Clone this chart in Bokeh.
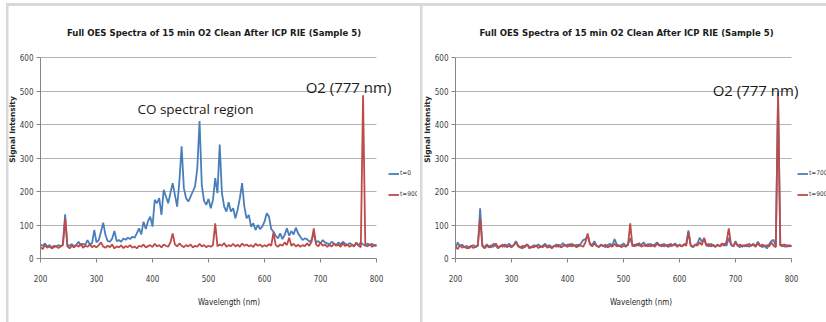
from bokeh.plotting import figure
from bokeh.models import Range1d, FixedTicker, Label
from bokeh.layouts import row
from bokeh.embed import file_html
from bokeh.resources import INLINE

# ---------------- data ----------------
wavelength = list(range(200, 801, 4))

t0_left = [42, 38, 45, 36, 40, 33, 38, 35, 40, 37, 42, 132, 40, 38, 43, 36, 41, 50, 38, 44,
           40, 55, 42, 45, 85, 48, 55, 80, 107, 70, 52, 50, 60, 82, 52, 55, 50, 60, 56, 62,
           58, 65, 62, 75, 90, 72, 110, 88, 112, 125, 95, 175, 165, 180, 130, 205, 185, 165, 195, 225,
           190, 155, 230, 335, 210, 180, 170, 185, 200, 215, 270, 410, 220, 172, 160, 178, 150, 175, 240, 195,
           340, 195, 155, 140, 168, 140, 150, 120, 145, 180, 225, 155, 120, 130, 95, 105, 85, 100, 88, 95,
           110, 135, 125, 88, 80, 68, 60, 75, 58, 70, 90, 68, 82, 72, 92, 75, 65, 55, 60, 58,
           50, 55, 75, 48, 52, 45, 55, 48, 45, 42, 50, 45, 40, 48, 42, 50, 44, 40, 46, 42,
           38, 45, 40, 48, 42, 38, 45, 40, 44, 38, 42]

t900 = [35, 28, 40, 32, 36, 30, 34, 38, 31, 36, 40, 120, 36, 30, 38, 33, 40, 35, 45, 32,
        38, 35, 42, 34, 38, 33, 40, 48, 36, 32, 38, 34, 42, 30, 36, 33, 39, 31, 37, 34,
        40, 32, 36, 30, 38, 35, 42, 33, 37, 40, 34, 44, 36, 40, 33, 42, 38, 35, 48, 75,
        42, 36, 45, 38, 34, 40, 36, 42, 33, 38, 35, 44, 36, 40, 34, 38, 35, 40, 105, 36,
        42, 38, 46, 35, 40, 37, 44, 36, 41, 35, 45, 38, 42, 36, 40, 34, 44, 38, 42, 35,
        40, 36, 43, 38, 78, 40, 35, 42, 38, 48, 40, 62, 38, 44, 36, 41, 35, 40, 37, 45,
        38, 50, 90, 42, 36, 48, 38, 42, 35, 40, 36, 44, 38, 41, 35, 46, 37, 42, 35, 40,
        36, 48, 38, 34, 487, 40, 36, 42, 35, 40, 37]

t700_right = [30, 48, 36, 42, 33, 38, 30, 36, 40, 34, 38, 150, 40, 34, 42, 36, 33, 44, 38, 30,
              36, 42, 35, 40, 44, 36, 40, 52, 38, 34, 30, 38, 42, 35, 32, 40, 36, 42, 34, 38,
              44, 36, 40, 33, 37, 42, 35, 40, 46, 38, 42, 36, 44, 38, 41, 36, 45, 55, 58, 68,
              45, 40, 52, 38, 35, 42, 38, 34, 40, 44, 38, 58, 42, 36, 40, 45, 38, 42, 60, 40,
              36, 44, 38, 42, 48, 40, 36, 44, 38, 42, 48, 40, 36, 44, 38, 42, 36, 40, 45, 38,
              42, 36, 40, 44, 84, 38, 34, 40, 45, 62, 50, 58, 40, 36, 44, 38, 35, 42, 36, 40,
              44, 38, 62, 40, 36, 52, 38, 34, 40, 36, 42, 35, 38, 44, 36, 50, 38, 34, 40, 30,
              42, 52, 56, 36, 496, 38, 42, 35, 40, 36, 38]

x_ticks = [200, 300, 400, 500, 600, 700, 800]
y_ticks = [0, 100, 200, 300, 400, 500, 600]

title_text = "Full OES Spectra of 15 min O2 Clean After ICP RIE (Sample 5)"

BLUE = "#4A7EBB"
RED = "#BE4B48"
COND = "DejaVu Sans Condensed"
BORDER = "#d9d9d9"

PX_X = 0.56     # pixels per nm
PX_Y = 0.335    # pixels per intensity unit
FIG_H = 322
Y0_PAGE = 258   # page y of intensity 0


def panel(width, page_left, frame_left_page, blue, red, labels, annotations, title_cx, legend_x):
    mb_left = frame_left_page - page_left
    frame_w = width - mb_left
    frame_h = Y0_PAGE
    p = figure(width=width, height=FIG_H,
               x_range=Range1d(200, 200 + frame_w / PX_X),
               y_range=Range1d(0, frame_h / PX_Y),
               output_backend="svg", toolbar_location=None,
               min_border_left=mb_left, min_border_right=0,
               min_border_top=0, min_border_bottom=FIG_H - frame_h,
               background_fill_alpha=0, border_fill_alpha=0,
               outline_line_color=None)

    def dx(px):
        return 200 + (px - frame_left_page) / PX_X

    def dy(py):
        return (Y0_PAGE - py) / PX_Y

    xt = FixedTicker(ticks=x_ticks)
    yt = FixedTicker(ticks=y_ticks)
    p.xaxis.ticker = xt
    p.yaxis.ticker = yt
    p.xaxis.bounds = (x_ticks[0], x_ticks[-1])
    p.yaxis.bounds = (y_ticks[0], y_ticks[-1])
    for ax in (p.xaxis[0], p.yaxis[0]):
        ax.axis_line_color = "#868686"
        ax.major_tick_line_color = "#868686"
        ax.major_tick_out = 4
        ax.major_tick_in = 0
        ax.minor_tick_line_color = None
        ax.major_label_text_font = COND
        ax.major_label_text_font_size = "8px"
        ax.major_label_text_color = "#404040"
    p.xaxis.major_label_standoff = 12
    p.yaxis.major_label_standoff = 3
    p.xaxis.axis_label = "Wavelength (nm)"
    p.xaxis.axis_label_text_font = COND
    p.xaxis.axis_label_text_font_size = "8px"
    p.xaxis.axis_label_text_font_style = "normal"
    p.xaxis.axis_label_text_color = "#262626"
    p.xaxis.axis_label_standoff = 13
    p.yaxis.axis_label = "Signal Intensity"
    p.yaxis.axis_label_text_font = "DejaVu Sans"
    p.yaxis.axis_label_text_font_size = "7.5px"
    p.yaxis.axis_label_text_font_style = "bold"
    p.yaxis.axis_label_text_color = "#262626"
    p.yaxis.axis_label_standoff = 0

    p.xgrid.grid_line_color = None
    p.ygrid.ticker = yt
    p.ygrid.bounds = (y_ticks[0], y_ticks[-1])
    p.ygrid.cross_bounds = (x_ticks[0], x_ticks[-1])
    p.ygrid.grid_line_color = "#b4b4b4"
    p.ygrid.grid_line_width = 1.2

    p.line(wavelength, blue, line_color=BLUE, line_width=1.8, legend_label=labels[0])
    p.line(wavelength, red, line_color=RED, line_width=1.8, legend_label=labels[1])

    lg = p.legend[0]
    lg.location = (legend_x - frame_left_page, Y0_PAGE - 204.5)
    lg.border_line_color = None
    lg.background_fill_alpha = 0
    lg.padding = 0
    lg.margin = 0
    lg.spacing = 0
    lg.glyph_width = 11
    lg.glyph_height = 21
    lg.label_height = 21
    lg.label_standoff = 1
    lg.label_text_font = COND
    lg.label_text_font_size = "6.5px"
    lg.label_text_color = "#404040"

    p.add_layout(Label(x=dx(title_cx), y=dy(32), text=title_text, text_align="center",
                       text_baseline="middle", text_font=COND, text_font_size="9.5px",
                       text_font_style="bold", text_color="#1a1a1a"))
    for (txt, cx, cy, fs) in annotations:
        p.add_layout(Label(x=dx(cx), y=dy(cy), text=txt, text_align="center",
                           text_baseline="middle", text_font="Open Sans",
                           text_font_size=fs, text_color="#1a1a1a"))
    return p


p1 = panel(417, 0, 40, t0_left, t900, ["t=0", "t=900"],
           [("CO spectral region", 195, 108, "13.5px"), ("O2 (777 nm)", 348, 86, "15px")],
           213.5, 388)
p2 = panel(409, 417, 455, t700_right, t900, ["t=700", "t=900"],
           [("O2 (777 nm)", 755, 89, "15px")], 626, 797)

g = "linear-gradient(%s,%s)" % (BORDER, BORDER)
background = ", ".join([
    g + " 6px 3px / 820px 3px no-repeat",
    g + " 6px 3px / 2.5px 319px no-repeat",
    g + " 420px 3px / 2.5px 319px no-repeat",
    "#ffffff",
])
layout = row(p1, p2, spacing=0, styles={"background": background})
open("out.html", "w").write(file_html(layout, INLINE))
